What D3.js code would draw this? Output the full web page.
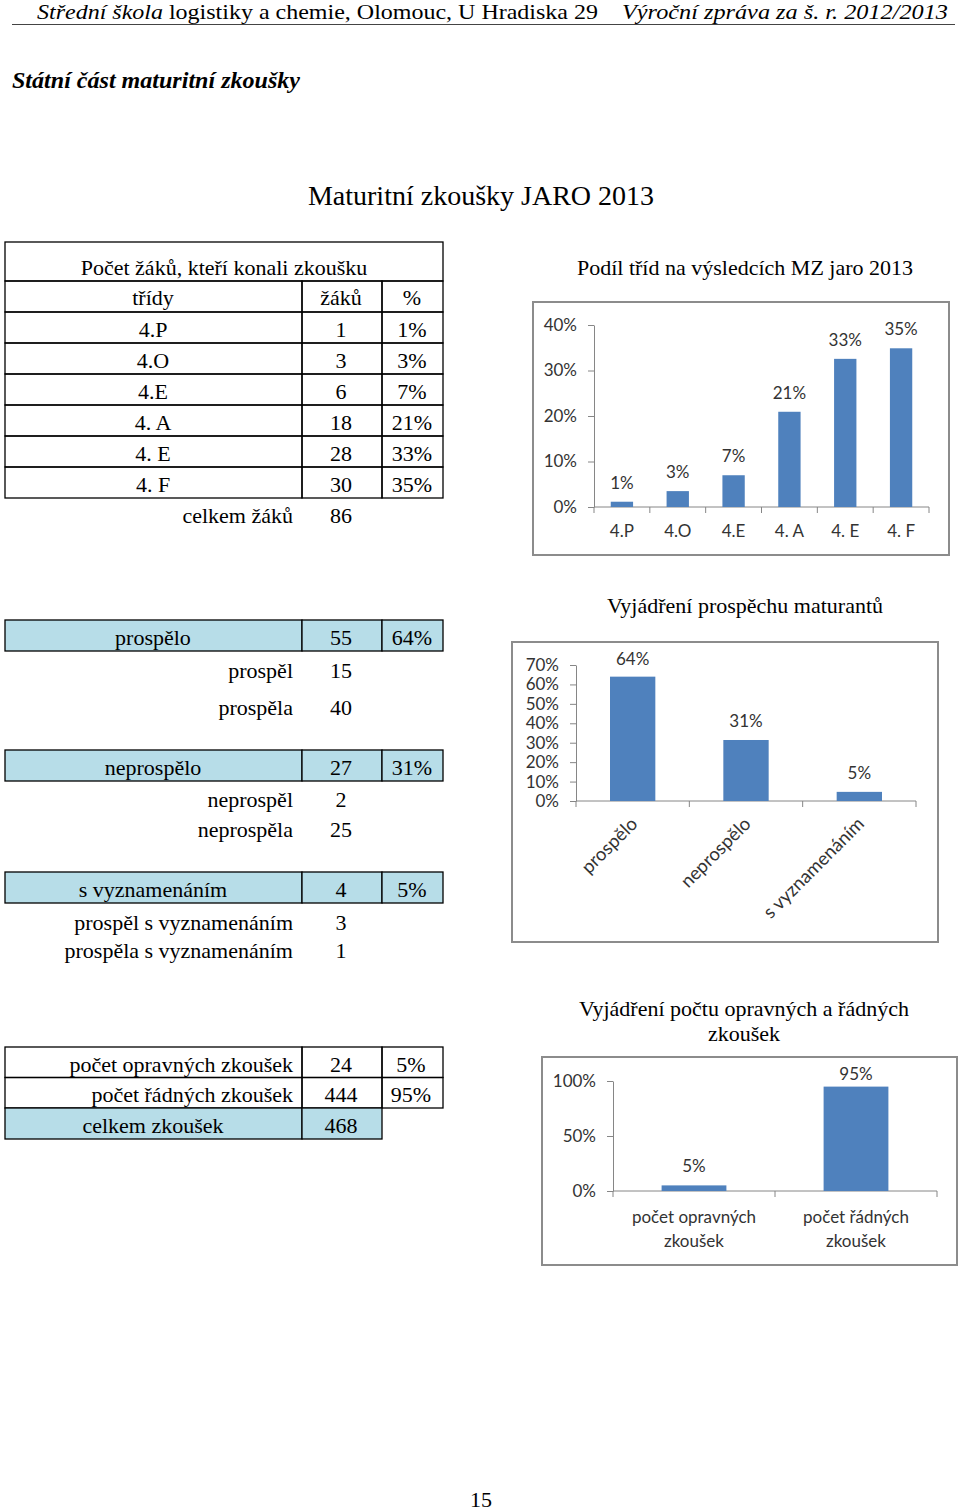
<!DOCTYPE html>
<html><head><meta charset="utf-8">
<script src="https://cdn.jsdelivr.net/npm/d3@7/dist/d3.min.js"></script>
<style>body{margin:0;background:#fff}svg{display:block}</style>
</head><body>
<script>
// ---------- DATA ----------
const classes = ["4.P","4.O","4.E","4. A","4. E","4. F"];
const classCounts = [1,3,6,18,28,30];
const classPctLabels = ["1%","3%","7%","21%","33%","35%"];
const classShare = [0.0116,0.0349,0.0698,0.2093,0.3256,0.3488];
const classTotal = 86;
const classTicks = [0,0.1,0.2,0.3,0.4];

const resultCats = ["prospělo","neprospělo","s vyznamenáním"];
const resultCounts = [55,27,4];
const resultPctLabels = ["64%","31%","5%"];
const resultShare = [0.64,0.314,0.047];
const resultSubLabels = [["prospěl","prospěla"],["neprospěl","neprospěla"],["prospěl s vyznamenáním","prospěla s vyznamenáním"]];
const resultSubCounts = [[15,40],[2,25],[3,1]];
const resultTicks = [0,0.1,0.2,0.3,0.4,0.5,0.6,0.7];

const examCats = ["počet opravných zkoušek","počet řádných zkoušek"];
const examChartLabels = [["počet opravných","zkoušek"],["počet řádných","zkoušek"]];
const examCounts = [24,444];
const examPctLabels = ["5%","95%"];
const examShare = [0.051,0.949];
const examTotal = 468;
const examTicks = [0,0.5,1];

// ---------- DRAW ----------
const svg = d3.select("body").append("svg").attr("width",960).attr("height",1511);
const serif = "'Liberation Serif','Times New Roman',serif";
const sans = "Lato,'Open Sans',sans-serif";
const BLUE = "#4f81bd", LIGHT = "#b7dde8", AX = "#868686", TXT = "#333";
const TFS = 22;

// header
svg.append("text").attr("x",37).attr("y",19).attr("font-family",serif).attr("font-size",22)
  .attr("textLength",561).attr("lengthAdjust","spacingAndGlyphs")
  .call(t=>{t.append("tspan").attr("font-style","italic").text("Střední škola");
           t.append("tspan").text(" logistiky a chemie, Olomouc, U Hradiska 29");});
svg.append("text").attr("x",622).attr("y",19).attr("font-family",serif).attr("font-size",22)
  .attr("font-style","italic").attr("textLength",326).attr("lengthAdjust","spacingAndGlyphs")
  .text("Výroční zpráva za š. r. 2012/2013");
svg.append("line").attr("x1",12).attr("x2",955).attr("y1",24.5).attr("y2",24.5).attr("stroke","#444").attr("stroke-width",1);
svg.append("text").attr("x",12).attr("y",88).attr("font-family",serif).attr("font-size",23)
  .attr("font-style","italic").attr("font-weight","bold").attr("textLength",288).attr("lengthAdjust","spacingAndGlyphs")
  .text("Státní část maturitní zkoušky");
svg.append("text").attr("x",481).attr("y",205).attr("text-anchor","middle").attr("font-family",serif).attr("font-size",28)
  .text("Maturitní zkoušky JARO 2013");
svg.append("text").attr("x",481).attr("y",1507).attr("text-anchor","middle").attr("font-family",serif).attr("font-size",22)
  .text("15");

// table helpers
const C0=5, C1=302, C2=382, C3=443;
function cell(x0,y0,x1,y1,fill){
  svg.append("rect").attr("x",x0).attr("y",y0).attr("width",x1-x0).attr("height",y1-y0)
    .attr("fill",fill||"none").attr("stroke","#000").attr("stroke-width",1.3);
}
function txt(x,y,s,anchor,size){
  svg.append("text").attr("x",x).attr("y",y).attr("text-anchor",anchor||"middle")
    .attr("font-family",serif).attr("font-size",size||TFS).attr("fill","#000").text(s);
}
// table 1
cell(C0,242,C3,281); txt(224,275,"Počet žáků, kteří konali zkoušku");
cell(C0,281,C1,312); cell(C1,281,C2,312); cell(C2,281,C3,312);
txt(153,305,"třídy"); txt(341,305,"žáků"); txt(412,305,"%");
classes.forEach((c,i)=>{
  const y0=312+i*31, y1=y0+31;
  cell(C0,y0,C1,y1); cell(C1,y0,C2,y1); cell(C2,y0,C3,y1);
  txt(153,y1-6,c); txt(341,y1-6,classCounts[i]); txt(412,y1-6,classPctLabels[i]);
});
txt(293,523,"celkem žáků","end"); txt(341,523,classTotal);

// table 2
const resTop=[620,750,872];
const subBase=[[678,715],[807,837],[930,958]];
resultCats.forEach((c,i)=>{
  const y0=resTop[i], y1=y0+31;
  cell(C0,y0,C1,y1,LIGHT); cell(C1,y0,C2,y1,LIGHT); cell(C2,y0,C3,y1,LIGHT);
  txt(153,y1-6,c); txt(341,y1-6,resultCounts[i]); txt(412,y1-6,resultPctLabels[i]);
  resultSubLabels[i].forEach((s,j)=>{ txt(293,subBase[i][j],s,"end"); txt(341,subBase[i][j],resultSubCounts[i][j]); });
});

// table 3
examCats.forEach((c,i)=>{
  const y0=1047+i*30.5, y1=y0+30.5;
  cell(C0,y0,C1,y1); cell(C1,y0,C2,y1); cell(C2,y0,C3,y1);
  txt(293,y1-6,c,"end"); txt(341,y1-6,examCounts[i]); txt(411,y1-6,examPctLabels[i]);
});
cell(C0,1108,C1,1139,LIGHT); cell(C1,1108,C2,1139,LIGHT);
txt(153,1133,"celkem zkoušek"); txt(341,1133,examTotal);

// chart helper
function chart(o){
  const g = svg.append("g");
  o.title.forEach((t,i)=>g.append("text").attr("x",o.titleX).attr("y",o.titleY+i*25).attr("text-anchor","middle")
     .attr("font-family",serif).attr("font-size",22).text(t));
  const [fx0,fy0,fx1,fy1]=o.frame;
  g.append("rect").attr("x",fx0).attr("y",fy0).attr("width",fx1-fx0).attr("height",fy1-fy0)
    .attr("fill","#fff").attr("stroke","#8c8c8c").attr("stroke-width",2);
  const x = d3.scaleBand().domain(o.cats).range([o.ax0,o.ax1]).paddingInner(0.6).paddingOuter(0.3);
  const y = d3.scaleLinear().domain([0,o.yMax]).range([o.y0,o.yTop]);
  const ya = g.append("g").attr("transform",`translate(${o.ax0},0)`)
    .call(d3.axisLeft(y).tickValues(o.ticks).tickFormat(d3.format(".0%")).tickSize(6).tickSizeOuter(0).tickPadding(11));
  ya.select(".domain").attr("stroke",AX);
  ya.selectAll(".tick line").attr("stroke",AX);
  ya.selectAll(".tick text").attr("font-family",sans).attr("font-size",o.fs).attr("fill",TXT);
  g.append("line").attr("x1",o.ax0).attr("x2",o.ax1).attr("y1",y(0)).attr("y2",y(0)).attr("stroke",AX);
  const bounds = d3.range(o.cats.length+1).map(i=>o.ax0+i*x.step());
  g.selectAll(".bt").data(bounds).join("line").attr("x1",d=>d).attr("x2",d=>d)
    .attr("y1",y(0)).attr("y2",y(0)+6).attr("stroke",AX);
  g.selectAll(".bar").data(o.values).join("rect")
    .attr("x",(d,i)=>x(o.cats[i])).attr("width",x.bandwidth())
    .attr("y",d=>y(d)).attr("height",d=>y(0)-y(d)).attr("fill",BLUE);
  g.selectAll(".vl").data(o.values).join("text")
    .attr("x",(d,i)=>x(o.cats[i])+x.bandwidth()/2).attr("y",d=>Math.max(y(d)-13,fy0+23))
    .attr("text-anchor","middle").attr("font-family",sans).attr("font-size",o.fs).attr("fill",TXT)
    .text((d,i)=>o.labels[i]);
  o.cats.forEach((c,i)=>{
    const cx = x(c)+x.bandwidth()/2;
    if(o.rotate){
      g.append("text").attr("transform",`translate(${cx+6},${y(0)+24}) rotate(-45)`)
        .attr("text-anchor","end").attr("font-family",sans).attr("font-size",o.xfs).attr("fill",TXT).text(c);
    } else {
      const lines = o.xlabels ? o.xlabels[i] : [c];
      lines.forEach((l,j)=>g.append("text").attr("x",cx).attr("y",y(0)+o.xlOff+j*24)
        .attr("text-anchor","middle").attr("font-family",sans).attr("font-size",o.xfs||o.fs).attr("fill",TXT).text(l));
    }
  });
}

chart({title:["Podíl tříd na výsledcích MZ jaro 2013"],titleX:745,titleY:275,frame:[533,302,949,555],
  ax0:594,ax1:929,y0:507,yTop:325,yMax:0.4,ticks:classTicks,cats:classes,values:classShare,labels:classPctLabels,
  fs:17,xlOff:30});
chart({title:["Vyjádření prospěchu maturantů"],titleX:745,titleY:613,frame:[512,642,938,942],
  ax0:576,ax1:916,y0:801,yTop:665,yMax:0.7,ticks:resultTicks,cats:resultCats,values:resultShare,labels:resultPctLabels,
  fs:17,xfs:18.5,rotate:true});
chart({title:["Vyjádření počtu opravných a řádných","zkoušek"],titleX:744,titleY:1016,frame:[542,1057,957,1265],
  ax0:613,ax1:937,y0:1191,yTop:1081,yMax:1,ticks:examTicks,cats:examCats,xlabels:examChartLabels,values:examShare,labels:examPctLabels,
  fs:17,xfs:17,xlOff:32});
</script>
</body></html>
